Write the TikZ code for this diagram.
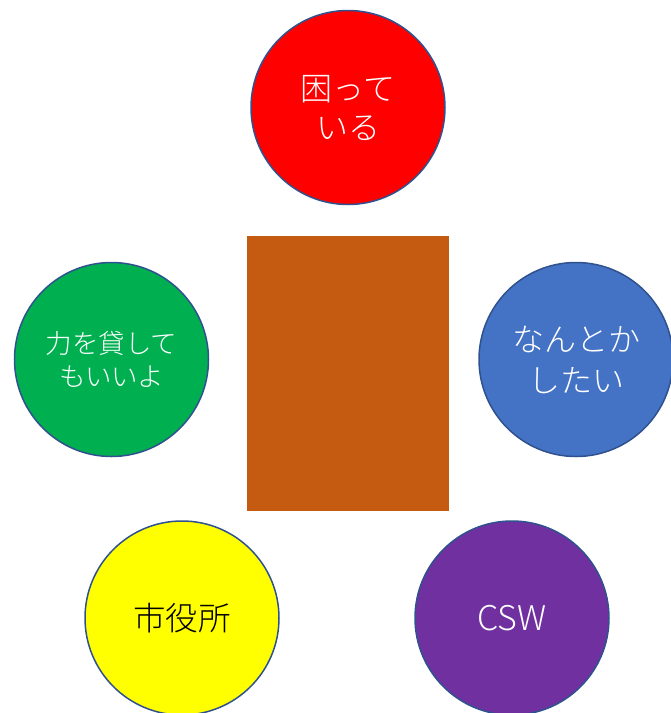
\documentclass[tikz,border=0pt]{standalone}
\usepackage{fontspec}
\newfontfamily\jp{Noto Sans CJK JP Light}
\definecolor{cred}{HTML}{FF0000}
\definecolor{cgreen}{HTML}{00B050}
\definecolor{cblue}{HTML}{4472C4}
\definecolor{cyellow}{HTML}{FFFF00}
\definecolor{cpurple}{HTML}{7030A0}
\definecolor{crect}{HTML}{C55A11}
\definecolor{cedge}{HTML}{2F528F}
\begin{document}
\begin{tikzpicture}[x=1pt,y=-1pt,
  bubble/.style={circle,draw=cedge,line width=1.5pt,minimum size=194pt,inner sep=0pt,align=center,font=\jp,text=white}]
\useasboundingbox (0,0) rectangle (671,713);
\clip (0,0) rectangle (671,713);
\node[fill=crect,minimum width=202pt,minimum height=275pt,inner sep=0pt] (box) at (348,373.5) {};
\node[bubble,fill=cred,font=\jp\fontsize{32}{39}\selectfont] (red) at (348,107.5) {困って\\いる};
\node[bubble,fill=cgreen,font=\jp\fontsize{26.5}{33}\selectfont] (green) at (111.5,359.5) {力を貸して\\もいいよ};
\node[bubble,fill=cblue,font=\jp\fontsize{32}{41}\selectfont] (blue) at (576,359.5) {なんとか\\したい};
\node[bubble,fill=cyellow,text=black,font=\jp\fontsize{32.5}{38}\selectfont] (yellow) at (182,618) {市役所};
\node[bubble,fill=cpurple,font=\jp\fontsize{34}{38}\selectfont] (purple) at (512,618) {CSW};
\end{tikzpicture}
\end{document}
